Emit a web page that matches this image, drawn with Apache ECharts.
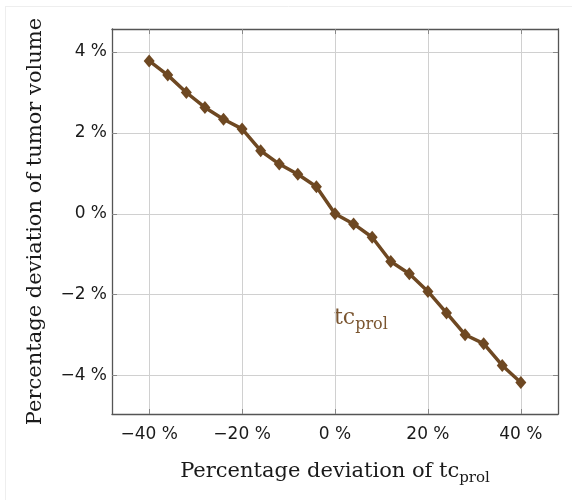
<!DOCTYPE html>
<html>
<head>
<meta charset="utf-8">
<script src="https://cdn.jsdelivr.net/npm/echarts@6/dist/echarts.min.js"></script>
<style>html,body{margin:0;padding:0;background:#fff;}#c{width:572px;height:500px;}</style>
</head>
<body>
<div id="c"></div>
<script>
const xValues = [-40,-36,-32,-28,-24,-20,-16,-12,-8,-4,0,4,8,12,16,20,24,28,32,36,40];
const yValues = [3.78,3.43,3.00,2.63,2.34,2.10,1.56,1.23,0.98,0.67,0.00,-0.25,-0.58,-1.18,-1.48,-1.92,-2.45,-2.99,-3.21,-3.75,-4.17];
const xTicks = [-40,-20,0,20,40];
const yTicks = [-4,-2,0,2,4];

const brown = '#6e4822';
const serif = 'DejaVu Serif';
const sans = 'DejaVu Sans';
function pct(v){ return (v < 0 ? '\u2212' + Math.abs(v) : String(v)) + ' %'; }

const chart = echarts.init(document.getElementById('c'), null, {renderer:'canvas'});
const axisCommon = {
  axisLine: {show: true, onZero: false, lineStyle: {color: '#555', width: 1.3}},
  axisTick: {show: true, inside: true, length: 5, lineStyle: {color: '#888', width: 1}},
  splitLine: {show: true, lineStyle: {color: '#d0d0d0', width: 1}}
};
const dataPairs = xValues.map((x, i) => [x, yValues[i]]);
chart.setOption({
  animation: false,
  grid: {left: 112, top: 29, right: 14, bottom: 86, containLabel: false},
  xAxis: [
    Object.assign({}, axisCommon, {
      type: 'value', min: -48, max: 48, position: 'bottom',
      axisTick: Object.assign({}, axisCommon.axisTick, {customValues: xTicks}),
      axisLabel: {customValues: xTicks, formatter: pct, fontFamily: sans, fontSize: 17, color: '#1a1a1a', margin: 12},
      name: '{a|Percentage deviation of tc}{s|prol}',
      nameLocation: 'middle', nameGap: 47,
      nameTextStyle: {
        rich: {
          a: {fontFamily: serif, fontSize: 21, color: '#1a1a1a', lineHeight: 25, verticalAlign: 'top'},
          s: {fontFamily: serif, fontSize: 15, color: '#1a1a1a', lineHeight: 15, verticalAlign: 'bottom'}
        }
      }
    }),
    Object.assign({}, axisCommon, {
      type: 'value', min: -48, max: 48, position: 'top',
      axisTick: Object.assign({}, axisCommon.axisTick, {customValues: xTicks}),
      axisLabel: {show: false, customValues: xTicks},
      splitLine: {show: false}
    })
  ],
  yAxis: [
    Object.assign({}, axisCommon, {
      type: 'value', min: -4.95, max: 4.57, position: 'left',
      axisTick: Object.assign({}, axisCommon.axisTick, {customValues: yTicks}),
      axisLabel: {customValues: yTicks, formatter: pct, fontFamily: sans, fontSize: 17, color: '#1a1a1a', margin: 5},
      name: 'Percentage deviation of tumor volume',
      nameLocation: 'middle', nameGap: 66, nameRotate: 90,
      nameTextStyle: {fontFamily: serif, fontSize: 21, color: '#1a1a1a'}
    }),
    Object.assign({}, axisCommon, {
      type: 'value', min: -4.95, max: 4.57, position: 'right',
      axisTick: Object.assign({}, axisCommon.axisTick, {customValues: yTicks}),
      axisLabel: {show: false, customValues: yTicks},
      splitLine: {show: false}
    })
  ],
  series: [{
    type: 'line',
    data: dataPairs,
    xAxisIndex: 0, yAxisIndex: 0,
    symbol: 'diamond', symbolSize: [11, 13], showAllSymbol: true,
    lineStyle: {color: brown, width: 3.5},
    itemStyle: {color: brown},
    z: 5
  }],
  graphic: [
    {type: 'text', left: 334, top: 307, style: {
      rich: {
        a: {fontFamily: serif, fontSize: 22, fill: '#7a5530', lineHeight: 26, verticalAlign: 'top'},
        s: {fontFamily: serif, fontSize: 16, fill: '#7a5530', lineHeight: 16, verticalAlign: 'bottom'}
      },
      text: '{a|tc}{s|prol}'
    }},
    {type: 'line', shape: {x1: 5.5, y1: 6, x2: 5.5, y2: 500}, style: {stroke: '#eeeeee', lineWidth: 1}},
    {type: 'line', shape: {x1: 5, y1: 6.5, x2: 572, y2: 6.5}, style: {stroke: '#eeeeee', lineWidth: 1}}
  ]
});
</script>
</body>
</html>
